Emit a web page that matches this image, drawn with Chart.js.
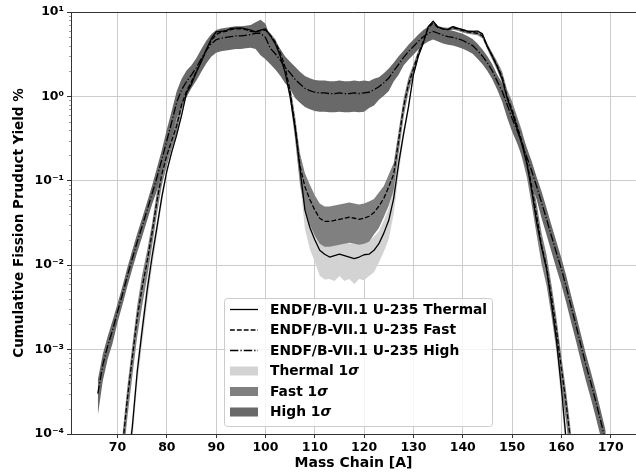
<!DOCTYPE html>
<html>
<head>
<meta charset="utf-8">
<script src="https://cdn.jsdelivr.net/npm/chart.js@4.4.1/dist/chart.umd.min.js"></script>
<style>
	html, body { margin: 0; padding: 0; background: #fff; }
	#wrap { width: 636px; height: 472px; }
</style>
</head>
<body>
<div id="wrap"><canvas id="myChart"></canvas></div>
<script>
// Mass chains A = 66 ... 170
const massChain = [
	66, 67, 68, 69, 70, 71, 72, 73, 74, 75,
	76, 77, 78, 79, 80, 81, 82, 83, 84, 85,
	86, 87, 88, 89, 90, 91, 92, 93, 94, 95,
	96, 97, 98, 99, 100, 101, 102, 103, 104, 105,
	106, 107, 108, 109, 110, 111, 112, 113, 114, 115,
	116, 117, 118, 119, 120, 121, 122, 123, 124, 125,
	126, 127, 128, 129, 130, 131, 132, 133, 134, 135,
	136, 137, 138, 139, 140, 141, 142, 143, 144, 145,
	146, 147, 148, 149, 150, 151, 152, 153, 154, 155,
	156, 157, 158, 159, 160, 161, 162, 163, 164, 165,
	166, 167, 168, 169, 170
];

// cumulative yields in %
const thermalYield = [
	null, null, null, null, null, null, 4e-5, 1.2e-4, 5.5e-4, 1.7e-3,
	5e-3, 0.0125, 0.028, 0.065, 0.13, 0.22, 0.35, 0.6, 1.1, 1.4,
	1.95, 2.6, 3.6, 4.8, 5.8, 5.9, 6.0, 6.4, 6.45, 6.5,
	6.3, 6.1, 5.8, 6.1, 6.3, 5.2, 4.2, 3.0, 1.9, 1.0,
	0.42, 0.14, 0.045, 0.028, 0.02, 0.015, 0.0135, 0.0125, 0.013, 0.0135,
	0.013, 0.0125, 0.012, 0.0125, 0.0133, 0.0135, 0.015, 0.018, 0.024, 0.034,
	0.062, 0.16, 0.36, 0.75, 1.8, 3.0, 4.3, 6.7, 7.8, 6.6,
	6.3, 6.2, 6.7, 6.4, 6.2, 5.9, 5.9, 5.95, 5.5, 3.9,
	3.0, 2.25, 1.6, 0.95, 0.65, 0.42, 0.27, 0.16, 0.075, 0.032,
	0.016, 0.009, 0.0035, 0.0013, 3.5e-4, 8e-5, null, null, null, null,
	null, null, null, null, null
];
const fastYield = [
	null, null, null, null, null, 7e-5, 2.6e-4, 8e-4, 2.4e-3, 5.5e-3,
	0.011, 0.024, 0.058, 0.12, 0.2, 0.3, 0.45, 0.8, 1.15, 1.5,
	2.0, 2.6, 3.5, 4.6, 5.4, 5.8, 5.9, 6.2, 6.3, 6.3,
	6.2, 5.9, 5.8, 6.0, 6.1, 5.3, 4.4, 3.3, 2.2, 1.15,
	0.45, 0.15, 0.085, 0.06, 0.045, 0.036, 0.033, 0.033, 0.034, 0.035,
	0.036, 0.037, 0.036, 0.035, 0.036, 0.038, 0.042, 0.05, 0.062, 0.085,
	0.12, 0.3, 0.75, 1.4, 2.1, 3.2, 4.5, 6.5, 7.4, 6.5,
	6.3, 6.2, 6.5, 6.3, 6.0, 5.8, 5.7, 5.6, 5.2, 3.9,
	3.0, 2.3, 1.7, 1.0, 0.7, 0.45, 0.29, 0.17, 0.085, 0.038,
	0.017, 0.0095, 0.0042, 0.0017, 6e-4, 2.2e-4, 7e-5, null, null, null,
	null, null, null, null, null
];
const highYield = [
	3.0e-4, 6.5e-4, 1.1e-3, 1.7e-3, 2.8e-3, 4.5e-3, 7.5e-3, 0.012, 0.019, 0.029,
	0.045, 0.07, 0.11, 0.18, 0.3, 0.5, 0.85, 1.2, 1.5, 1.8,
	2.2, 2.8, 3.5, 4.2, 4.7, 4.9, 5.0, 5.1, 5.2, 5.2,
	5.3, 5.4, 5.6, 5.6, 5.0, 3.7, 3.2, 2.7, 2.2, 1.9,
	1.6, 1.4, 1.25, 1.17, 1.12, 1.1, 1.1, 1.08, 1.08, 1.1,
	1.08, 1.08, 1.1, 1.08, 1.1, 1.12, 1.2, 1.3, 1.45, 1.65,
	2.0, 2.4, 2.9, 3.4, 3.9, 4.5, 5.1, 5.6, 5.9, 5.6,
	5.3, 5.1, 5.0, 4.8, 4.6, 4.3, 4.0, 3.5, 3.0, 2.5,
	2.0, 1.5, 1.15, 0.8, 0.55, 0.4, 0.28, 0.19, 0.13, 0.085,
	0.055, 0.035, 0.022, 0.014, 0.009, 0.0055, 0.0032, 0.0019, 0.0011, 6.5e-4,
	4e-4, 2.4e-4, 1.4e-4, 8e-5, null
];

// relative 1 sigma uncertainties
const thermalSigma = [
	0.3, 0.3, 0.3, 0.3, 0.3, 0.3, 0.3, 0.3, 0.3, 0.3,
	0.3, 0.25, 0.2, 0.15, 0.1, 0.08, 0.06, 0.05, 0.05, 0.04,
	0.03, 0.03, 0.02, 0.02, 0.02, 0.02, 0.02, 0.02, 0.02, 0.02,
	0.02, 0.02, 0.02, 0.02, 0.02, 0.03, 0.04, 0.06, 0.1, 0.15,
	0.2, 0.3, 0.4, 0.45, 0.45, 0.5, 0.5, 0.45, 0.5, 0.45,
	0.5, 0.45, 0.5, 0.45, 0.5, 0.45, 0.45, 0.4, 0.4, 0.4,
	0.35, 0.25, 0.15, 0.1, 0.05, 0.03, 0.02, 0.02, 0.02, 0.02,
	0.02, 0.02, 0.02, 0.02, 0.02, 0.02, 0.02, 0.02, 0.03, 0.03,
	0.04, 0.05, 0.06, 0.08, 0.1, 0.12, 0.15, 0.2, 0.25, 0.3,
	0.3, 0.3, 0.3, 0.3, 0.3, 0.3, 0.3, 0.3, 0.3, 0.3,
	0.3, 0.3, 0.3, 0.3, 0.3
];
const fastSigma = [
	0.4, 0.4, 0.4, 0.4, 0.4, 0.4, 0.4, 0.4, 0.4, 0.4,
	0.35, 0.3, 0.3, 0.25, 0.25, 0.2, 0.2, 0.15, 0.1, 0.1,
	0.08, 0.06, 0.05, 0.05, 0.05, 0.05, 0.05, 0.05, 0.05, 0.05,
	0.05, 0.05, 0.05, 0.05, 0.05, 0.06, 0.08, 0.1, 0.15, 0.2,
	0.3, 0.4, 0.45, 0.5, 0.5, 0.5, 0.5, 0.5, 0.5, 0.5,
	0.5, 0.5, 0.5, 0.5, 0.5, 0.5, 0.45, 0.45, 0.4, 0.4,
	0.35, 0.3, 0.25, 0.2, 0.15, 0.1, 0.08, 0.05, 0.05, 0.05,
	0.05, 0.05, 0.05, 0.05, 0.05, 0.05, 0.05, 0.05, 0.06, 0.08,
	0.1, 0.12, 0.15, 0.2, 0.25, 0.3, 0.35, 0.35, 0.4, 0.4,
	0.4, 0.4, 0.4, 0.4, 0.4, 0.4, 0.4, 0.4, 0.4, 0.4,
	0.4, 0.4, 0.4, 0.4, 0.4
];
const highSigma = [
	0.45, 0.35, 0.3, 0.3, 0.25, 0.25, 0.25, 0.25, 0.25, 0.25,
	0.25, 0.25, 0.3, 0.3, 0.35, 0.35, 0.35, 0.35, 0.35, 0.3,
	0.3, 0.3, 0.3, 0.3, 0.3, 0.3, 0.3, 0.3, 0.3, 0.3,
	0.3, 0.3, 0.35, 0.45, 0.45, 0.35, 0.35, 0.35, 0.35, 0.35,
	0.4, 0.4, 0.4, 0.4, 0.4, 0.4, 0.4, 0.4, 0.4, 0.4,
	0.4, 0.4, 0.4, 0.4, 0.4, 0.35, 0.35, 0.3, 0.3, 0.3,
	0.25, 0.25, 0.2, 0.2, 0.2, 0.2, 0.2, 0.2, 0.2, 0.2,
	0.2, 0.2, 0.2, 0.2, 0.2, 0.2, 0.2, 0.2, 0.2, 0.2,
	0.2, 0.2, 0.25, 0.3, 0.3, 0.3, 0.3, 0.3, 0.3, 0.3,
	0.35, 0.35, 0.35, 0.35, 0.35, 0.35, 0.35, 0.35, 0.35, 0.35,
	0.35, 0.35, 0.35, 0.35, 0.35
];

const xTickValues = [70, 80, 90, 100, 110, 120, 130, 140, 150, 160, 170];
const yTickValues = [1e-4, 1e-3, 1e-2, 1e-1, 1e0, 1e1];
const yTickLabels = ['10\u207B\u2074', '10\u207B\u00B3', '10\u207B\u00B2', '10\u207B\u00B9', '10\u2070', '10\u00B9'];

const lineLabels = ['ENDF/B-VII.1 U-235 Thermal', 'ENDF/B-VII.1 U-235 Fast', 'ENDF/B-VII.1 U-235 High'];
const bandLabels = ['Thermal 1', 'Fast 1', 'High 1'];

const FONT = 'DejaVu Sans';
const lw = 1.3;
const dashes = [[], [3.7 * lw, 1.6 * lw], [6.4 * lw, 1.6 * lw, 1 * lw, 1.6 * lw]];
const bandColors = ['#d3d3d3', '#808080', '#696969'];

// build {x,y} points, skipping masses with no value
const points = (vals, factor) => {
	const out = [];
	massChain.forEach((a, i) => {
		if (vals[i] == null) return;
		out.push({ x: a, y: vals[i] * factor(i) });
	});
	return out;
};

const series = [
	{ vals: thermalYield, sig: thermalSigma },
	{ vals: fastYield, sig: fastSigma },
	{ vals: highYield, sig: highSigma }
];

const datasets = [];
series.forEach((s, k) => {
	datasets.push({
		label: lineLabels[k],
		data: points(s.vals, () => 1),
		borderColor: '#000',
		borderWidth: lw,
		borderDash: dashes[k],
		pointRadius: 0,
		fill: false,
		order: 0
	});
});
series.forEach((s, k) => {
	const lowIndex = datasets.length;
	datasets.push({
		label: bandLabels[k] + ' low',
		data: points(s.vals, (i) => 1 - s.sig[i]),
		borderColor: 'rgba(0,0,0,0)',
		borderWidth: 0,
		pointRadius: 0,
		fill: false,
		order: 30 - k * 10
	});
	datasets.push({
		label: bandLabels[k] + ' high',
		data: points(s.vals, (i) => 1 + s.sig[i]),
		borderColor: 'rgba(0,0,0,0)',
		borderWidth: 0,
		pointRadius: 0,
		backgroundColor: bandColors[k],
		fill: { target: lowIndex },
		order: 30 - k * 10
	});
});

// top spine + minor log ticks
const axesExtras = {
	id: 'axesExtras',
	afterDraw(chart) {
		const ctx = chart.ctx;
		const area = chart.chartArea;
		const y = chart.scales.y;
		ctx.save();
		ctx.strokeStyle = '#333';
		ctx.lineWidth = 1;
		ctx.beginPath();
		ctx.moveTo(area.left, area.top + 0.5);
		ctx.lineTo(area.right, area.top + 0.5);
		ctx.stroke();
		ctx.strokeStyle = '#777';
		ctx.lineWidth = 0.7;
		for (let d = -4; d < 1; d++) {
			for (let m = 2; m < 10; m++) {
				const py = Math.round(y.getPixelForValue(m * Math.pow(10, d))) + 0.5;
				ctx.beginPath();
				ctx.moveTo(area.left - 2, py);
				ctx.lineTo(area.left, py);
				ctx.stroke();
			}
		}
		ctx.restore();
	}
};

// legend box inside the axes (lower centre)
const legendBox = {
	id: 'legendBox',
	afterDraw(chart) {
		const ctx = chart.ctx;
		const left = 224.5, top = 298.5, w = 268, h = 128;
		ctx.save();
		ctx.beginPath();
		ctx.roundRect(left, top, w, h, 3);
		ctx.fillStyle = 'rgba(255,255,255,0.8)';
		ctx.fill();
		ctx.strokeStyle = '#cccccc';
		ctx.lineWidth = 1;
		ctx.stroke();

		const boldFont = 'bold 13.8px "' + FONT + '"';
		const italicFont = 'italic bold 13.8px "' + FONT + '"';
		ctx.textBaseline = 'middle';
		ctx.fillStyle = '#000';
		const rowY = (i) => 309.5 + i * 20.5;
		lineLabels.forEach((text, i) => {
			ctx.beginPath();
			ctx.setLineDash(dashes[i]);
			ctx.strokeStyle = '#000';
			ctx.lineWidth = lw;
			ctx.moveTo(230, rowY(i));
			ctx.lineTo(258, rowY(i));
			ctx.stroke();
			ctx.setLineDash([]);
			ctx.font = boldFont;
			ctx.fillText(text, 270, rowY(i) + 0.5);
		});
		bandLabels.forEach((text, k) => {
			const i = k + 3;
			ctx.fillStyle = bandColors[k];
			ctx.fillRect(230, rowY(i) - 4.5, 28, 9);
			ctx.fillStyle = '#000';
			ctx.font = boldFont;
			ctx.fillText(text, 270, rowY(i) + 0.5);
			const tw = ctx.measureText(text).width;
			ctx.font = italicFont;
			ctx.fillText('\u03C3', 270 + tw, rowY(i) + 0.5);
		});
		ctx.restore();
	}
};

Chart.defaults.font.family = FONT;
Chart.defaults.color = '#000';

const ctx = document.getElementById('myChart').getContext('2d');
const myChart = new Chart(ctx, {
	type: 'line',
	data: { datasets },
	options: {
		responsive: true,
		maintainAspectRatio: false,
		animation: false,
		events: [],
		layout: { padding: { top: 12, right: 0, bottom: 0, left: 0 } },
		plugins: {
			legend: { display: false },
			tooltip: { enabled: false },
			filler: { drawTime: 'beforeDatasetsDraw', propagate: false }
		},
		elements: { line: { tension: 0, borderJoinStyle: 'round' } },
		scales: {
			x: {
				type: 'linear',
				min: 60.57,
				max: 175.13,
				afterBuildTicks: (scale) => {
					scale.ticks = xTickValues.map((v) => ({ value: v }));
				},
				afterFit: (scale) => { scale.height = 38; },
				ticks: {
					font: { size: 12.5, weight: 'bold' },
					padding: 2,
					maxRotation: 0,
					callback: (v) => String(v)
				},
				grid: { color: '#cccccc', lineWidth: 1, tickLength: 4, tickColor: '#333' },
				border: { color: '#333', width: 1 },
				title: {
					display: true,
					text: 'Mass Chain [A]',
					font: { size: 14, weight: 'bold' },
					padding: { top: 0, bottom: 0 }
				}
			},
			y: {
				type: 'logarithmic',
				min: 1e-4,
				max: 10,
				afterBuildTicks: (scale) => {
					scale.ticks = yTickValues.map((v) => ({ value: v, major: true }));
				},
				afterFit: (scale) => { scale.width = 71; },
				ticks: {
					font: { size: 12.5, weight: 'bold' },
					padding: 3,
					callback: (v, i) => yTickLabels[i]
				},
				grid: { color: '#cccccc', lineWidth: 1, tickLength: 4, tickColor: '#333' },
				border: { color: '#333', width: 1 },
				title: {
					display: true,
					text: 'Cumulative Fission Pruduct Yield %',
					font: { size: 13.5, weight: 'bold' },
					padding: { top: 11, bottom: 0 }
				}
			}
		}
	},
	plugins: [axesExtras, legendBox]
});
</script>
</body>
</html>
